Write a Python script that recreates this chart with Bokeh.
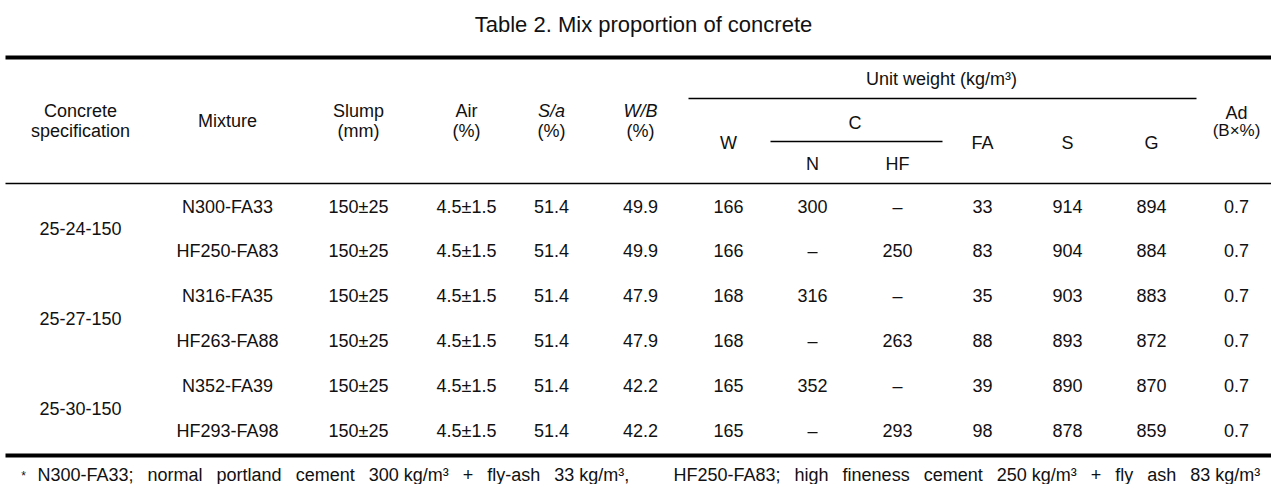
from bokeh.plotting import figure
from bokeh.models import Range1d, ColumnDataSource
from bokeh.core.properties import value
from bokeh.embed import file_html
from bokeh.resources import INLINE

# ---------------- data ----------------
title_text = "Table 2. Mix proportion of concrete"
specs = ["25-24-150", "25-27-150", "25-30-150"]
mixtures = ["N300-FA33", "HF250-FA83", "N316-FA35", "HF263-FA88", "N352-FA39", "HF293-FA98"]
slump = ["150±25", "150±25", "150±25", "150±25", "150±25", "150±25"]
air = ["4.5±1.5", "4.5±1.5", "4.5±1.5", "4.5±1.5", "4.5±1.5", "4.5±1.5"]
sa = [51.4, 51.4, 51.4, 51.4, 51.4, 51.4]
wb = [49.9, 49.9, 47.9, 47.9, 42.2, 42.2]
w_water = [166, 166, 168, 168, 165, 165]
c_n = [300, None, 316, None, 352, None]
c_hf = [None, 250, None, 263, None, 293]
fa = [33, 83, 35, 88, 39, 98]
s_sand = [914, 904, 903, 893, 890, 878]
g_gravel = [894, 884, 883, 872, 870, 859]
ad = [0.7, 0.7, 0.7, 0.7, 0.7, 0.7]
footnote_left = ["N300-FA33;", "normal", "portland", "cement", "300 kg/m³", "+", "fly-ash", "33 kg/m³,"]
footnote_right = ["HF250-FA83;", "high", "fineness", "cement", "250 kg/m³", "+", "fly", "ash", "83 kg/m³"]

# ---------------- layout ----------------
FONT = "Liberation Sans"
FS = "18px"
GAP = " \u2002"
col_x = [80, 227, 358, 466, 551, 640, 728, 812, 897, 982, 1067, 1151, 1236]
row_y = [206, 250, 295, 340, 385, 430]
group_y = [228, 318, 408]

p = figure(width=1271, height=484, output_backend="svg", toolbar_location=None,
           x_range=Range1d(0, 1271), y_range=Range1d(484, 0), min_border=0)
p.axis.visible = False
p.grid.visible = False
p.outline_line_color = None
p.background_fill_color = "white"
p.border_fill_color = "white"


def fmt(v):
    return "–" if v is None else str(v)


def put(xs, ys, texts, size=FS, style="normal", align="center", color="#111111"):
    src = ColumnDataSource(dict(x=xs, y=ys, t=texts))
    p.text(x="x", y="y", text="t", source=src, text_font=value(FONT),
           text_font_size=size, text_font_style=style, text_align=align,
           text_baseline="middle", text_color=color)


# title
put([643], [24], [title_text], size="22px")

# rules
p.segment(x0=[5, 5, 5], y0=[57, 183, 455], x1=[1282, 1282, 1282], y1=[57, 183, 455],
          line_color="black", line_width=[4, 1.5, 4])
p.segment(x0=[688, 770], y0=[98, 141], x1=[1196, 942], y1=[98, 141],
          line_color="black", line_width=1.3)

# headers
put([col_x[0], col_x[0], col_x[2], col_x[2], col_x[3], col_x[3], col_x[4], col_x[5]],
    [110, 130, 110, 130, 110, 130, 130, 130],
    ["Concrete", "specification", "Slump", "(mm)", "Air", "(%)", "(%)", "(%)"])
put([col_x[4], col_x[5]], [110, 110], ["S/a", "W/B"], style="italic")
put([col_x[1]], [120], ["Mixture"])
put([941], [78], ["Unit weight (kg/m³)"])
put([(col_x[7] + col_x[8]) / 2], [122], ["C"])
put([col_x[7], col_x[8]], [163, 163], ["N", "HF"])
put([col_x[6], col_x[9], col_x[10], col_x[11]], [142] * 4, ["W", "FA", "S", "G"])
put([col_x[12]], [112], ["Ad"])
put([col_x[12]], [130], ["(B×%)"], size="17px")

# body
put([col_x[0]] * 3, group_y, specs)
cols = [mixtures, slump, air, [fmt(v) for v in sa], [fmt(v) for v in wb],
        [fmt(v) for v in w_water], [fmt(v) for v in c_n], [fmt(v) for v in c_hf],
        [fmt(v) for v in fa], [fmt(v) for v in s_sand], [fmt(v) for v in g_gravel],
        [fmt(v) for v in ad]]
for ci, vals in enumerate(cols):
    put([col_x[ci + 1]] * len(vals), row_y, vals)

# footnote
put([23], [475], ["*"], size="12px", align="center")
put([37], [474], [GAP.join(footnote_left)], align="left")
put([673], [474], [GAP.join(footnote_right)], align="left")

open("out.html", "w").write(file_html(p, INLINE))
